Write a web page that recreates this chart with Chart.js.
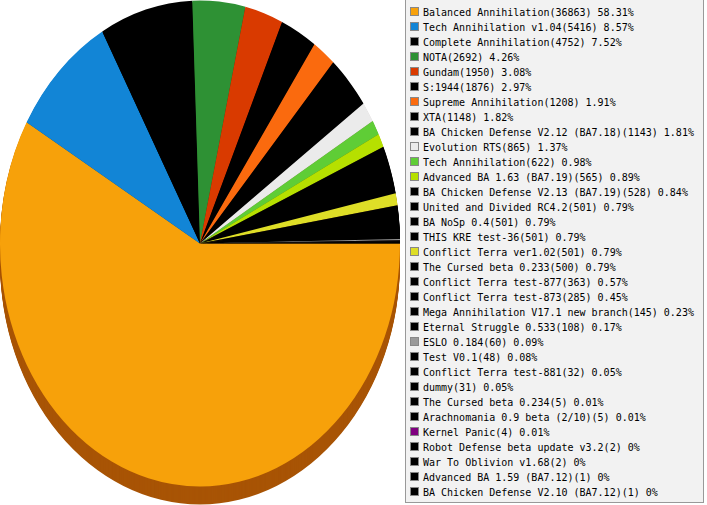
<!DOCTYPE html>
<html>
<head>
<meta charset="utf-8">
<script src="https://cdn.jsdelivr.net/npm/chart.js@4"></script>
<style>
    body { margin: 0; background: #fff; width: 707px; height: 505px; overflow: hidden; position: relative; }
    #pieBox { position: absolute; left: 0; top: 0; width: 400px; height: 505px; }
    #legend {
        position: absolute; left: 405px; top: -1px; width: 299px; height: 504px;
        background: #f2f2f2; border: 1px solid #999; box-sizing: border-box;
        font-family: "DejaVu Sans Mono", monospace; font-size: 10px; color: #000;
    }
    .item { position: absolute; left: 4px; height: 15px; line-height: 15px; white-space: nowrap; }
    .swatch { position: absolute; left: 0; top: 2px; width: 7px; height: 7px; border: 1px solid #888; }
    .label { position: absolute; left: 13px; top: 0; }
</style>
</head>
<body>
<div id="pieBox"><canvas id="modChart"></canvas></div>
<div id="legend"></div>
<script>
const mods = [
    'Balanced Annihilation', 'Tech Annihilation v1.04', 'Complete Annihilation', 'NOTA',
    'Gundam', 'S:1944', 'Supreme Annihilation', 'XTA',
    'BA Chicken Defense V2.12 (BA7.18)', 'Evolution RTS', 'Tech Annihilation',
    'Advanced BA 1.63 (BA7.19)', 'BA Chicken Defense V2.13 (BA7.19)', 'United and Divided RC4.2',
    'BA NoSp 0.4', 'THIS KRE test-36', 'Conflict Terra ver1.02', 'The Cursed beta 0.233',
    'Conflict Terra test-877', 'Conflict Terra test-873', 'Mega Annihilation V17.1 new branch',
    'Eternal Struggle 0.533', 'ESLO 0.184', 'Test V0.1', 'Conflict Terra test-881', 'dummy',
    'The Cursed beta 0.234', 'Arachnomania 0.9 beta (2/10)', 'Kernel Panic',
    'Robot Defense beta update v3.2', 'War To Oblivion v1.68', 'Advanced BA 1.59 (BA7.12)',
    'BA Chicken Defense V2.10 (BA7.12)'
];
const games = [
    36863, 5416, 4752, 2692, 1950, 1876, 1208, 1148, 1143, 865, 622, 565, 528, 501, 501, 501,
    501, 500, 363, 285, 145, 108, 60, 48, 32, 31, 5, 5, 4, 2, 2, 1, 1
];
const colors = [
    '#f7a10a', '#1285d6', '#000000', '#2e9134', '#d93a00', '#000000', '#fa6a0e', '#000000',
    '#000000', '#ebebeb', '#5fcd36', '#b6e000', '#000000', '#000000', '#000000', '#000000',
    '#dede27', '#000000', '#000000', '#000000', '#000000', '#000000', '#9a9a9a', '#000000',
    '#000000', '#000000', '#000000', '#000000', '#800080', '#000000', '#000000', '#000000',
    '#000000'
];

const SQUASH = 243 / 200; // pie is taller than wide
const DEPTH = 18;         // height of the 3d side, px

function shade(hex) {
    const n = parseInt(hex.slice(1), 16);
    const r = Math.round(((n >> 16) & 255) * 0.68);
    const g = Math.round(((n >> 8) & 255) * 0.52);
    const b = Math.round((n & 255) * 0.5);
    return `rgb(${r},${g},${b})`;
}

const pie3d = {
    id: 'pie3d',
    beforeDatasetsDraw(chart) {
        const ctx = chart.ctx;
        const arcs = chart.getDatasetMeta(0).data;
        const cx = arcs[0].x;
        const cy = arcs[0].y;
        ctx.save();
        ctx.translate(cx, cy);
        ctx.scale(1, SQUASH);
        ctx.translate(-cx, -cy);
        // side of the pie
        for (let d = DEPTH; d > 0; d--) {
            const oy = cy + d / SQUASH;
            arcs.forEach((arc, i) => {
                ctx.beginPath();
                ctx.moveTo(cx, oy);
                ctx.arc(cx, oy, arc.outerRadius, arc.startAngle, arc.endAngle);
                ctx.closePath();
                ctx.fillStyle = shade(colors[i]);
                ctx.fill();
            });
        }
    },
    afterDatasetsDraw(chart) {
        chart.ctx.restore();
    }
};

new Chart(document.getElementById('modChart'), {
    type: 'pie',
    data: {
        labels: mods,
        datasets: [{
            data: games,
            backgroundColor: colors,
            borderWidth: 0,
            clip: false
        }]
    },
    options: {
        responsive: true,
        maintainAspectRatio: false,
        animation: false,
        events: [],
        rotation: 90,
        layout: { padding: { bottom: DEPTH } },
        plugins: {
            legend: { display: false },
            tooltip: { enabled: false }
        }
    },
    plugins: [pie3d]
});

// legend
const total = games.reduce((a, b) => a + b, 0);
const legend = document.getElementById('legend');
mods.forEach((name, i) => {
    const pct = Number((games[i] / total * 100).toFixed(2));
    const item = document.createElement('div');
    item.className = 'item';
    item.style.top = `${5 + i * 15}px`;
    item.innerHTML = `<span class="swatch" style="background:${colors[i]}"></span>` +
        `<span class="label"></span>`;
    item.querySelector('.label').textContent = `${name}(${games[i]}) ${pct}%`;
    legend.appendChild(item);
});
</script>
</body>
</html>
